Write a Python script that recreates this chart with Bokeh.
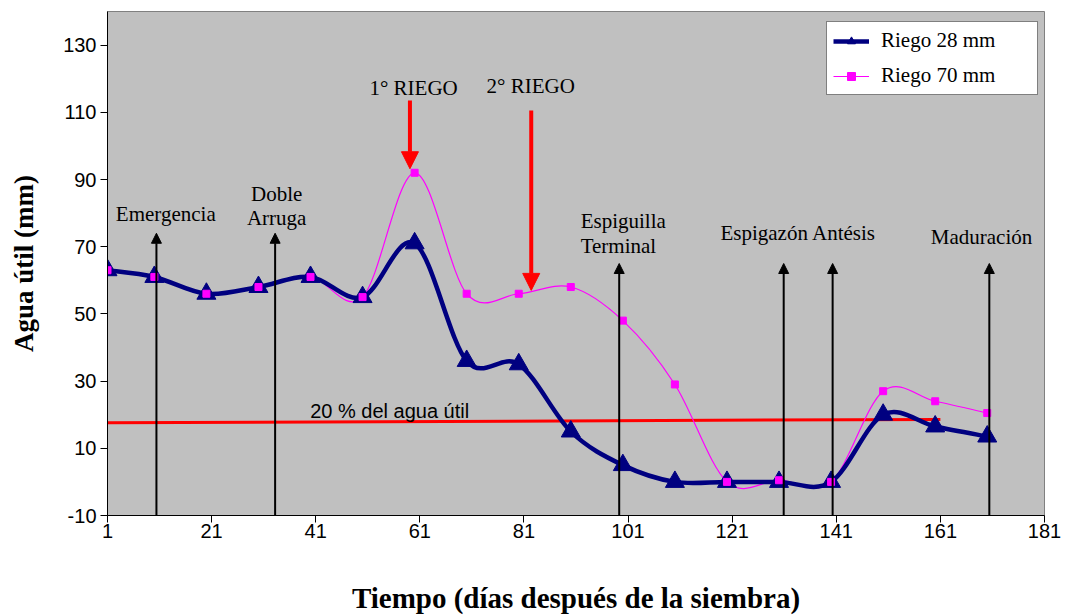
import numpy as np
from bokeh.plotting import figure
from bokeh.models import (Range1d, FixedTicker, Arrow, NormalHead, Legend,
                          LegendItem, ColumnDataSource)
from bokeh.core.properties import value
from bokeh.embed import file_html
from bokeh.resources import INLINE

# Días después de la siembra y agua útil (mm) para cada tratamiento
dias = [1, 10, 20, 30, 40, 50, 60, 70, 80, 90, 100, 110, 120, 130, 140, 150, 160, 170]
riego_28 = [63, 61, 56, 58, 61, 55, 71, 36, 35, 15, 5, 0, 0, 0, 0, 20, 16.5, 13.5]
riego_70 = [63, 61, 56, 58, 61, 55, 92, 56, 56, 58, 48, 29, 0, 0.5, 0, 27, 24, 20.5]

x_ticks = [1, 21, 41, 61, 81, 101, 121, 141, 161, 181]
y_ticks = [-10, 10, 30, 50, 70, 90, 110, 130]

# Estados fenológicos (flechas negras)
etapa_dia = [10.4, 33.2, 99.3, 130.9, 140.3, 170.4]
etapa_tope = [74, 74, 65, 65, 65, 65]

# Riegos aplicados (flechas rojas)
riego_nombre = ["1° RIEGO", "2° RIEGO"]
riego_dia = [59.1, 82.4]
riego_desde = [113.5, 110.5]
riego_hasta = [93.2, 57.0]

# Umbral del 20 % del agua útil
umbral_dia = [1, 161]
umbral_agua = [17.6, 18.6]

SERIF = "Liberation Serif"
SANS = "Liberation Sans"


def smooth_segments(xs, ys):
    """Cubic Bezier segments (Catmull-Rom style) through the given points."""
    x = np.asarray(xs, float)
    y = np.asarray(ys, float)
    xp = np.concatenate([[x[0]], x, [x[-1]]])
    yp = np.concatenate([[y[0]], y, [y[-1]]])
    i = np.arange(len(x) - 1)
    return dict(
        x0=xp[i + 1], y0=yp[i + 1], x1=xp[i + 2], y1=yp[i + 2],
        cx0=xp[i + 1] + (xp[i + 2] - xp[i]) / 6,
        cy0=yp[i + 1] + (yp[i + 2] - yp[i]) / 6,
        cx1=xp[i + 2] - (xp[i + 3] - xp[i + 1]) / 6,
        cy1=yp[i + 2] - (yp[i + 3] - yp[i + 1]) / 6,
    )


p = figure(width=1070, height=616, x_range=Range1d(1, 181), y_range=Range1d(-10, 140),
           output_backend="svg", toolbar_location=None,
           min_border_left=107, min_border_right=26, min_border_top=11,
           min_border_bottom=100)
p.background_fill_color = "#C0C0C0"
p.border_fill_color = "white"
p.outline_line_color = "#808080"
p.outline_line_width = 1
p.grid.visible = False

# Ejes
p.xaxis.ticker = FixedTicker(ticks=x_ticks)
p.yaxis.ticker = FixedTicker(ticks=y_ticks)
p.yaxis.major_label_overrides = {t: str(t) for t in y_ticks}
for ax in (p.xaxis[0], p.yaxis[0]):
    ax.axis_line_color = "black"
    ax.major_tick_line_color = "black"
    ax.minor_tick_line_color = None
    ax.major_tick_in = 0
    ax.major_tick_out = 7
    ax.major_label_text_font = SANS
    ax.major_label_text_font_size = "20px"
    ax.major_label_text_color = "black"
    ax.axis_label_text_font = SERIF
    ax.axis_label_text_font_style = "bold"
    ax.axis_label_text_color = "black"

p.xaxis.axis_label = "Tiempo (días después de la siembra)"
p.xaxis.axis_label_text_font_size = "29px"
p.xaxis.major_label_standoff = 1
p.xaxis.axis_label_standoff = 41
p.yaxis.axis_label = "Agua útil (mm)"
p.yaxis.axis_label_text_font_size = "27px"
p.yaxis.major_label_standoff = 4
p.yaxis.axis_label_standoff = 21

# Línea del 20 % del agua útil
p.line(umbral_dia, umbral_agua, line_color="red", line_width=3)
p.text(x=[55.2], y=[21.0], text=["20 % del agua útil"], text_font=value(SANS),
       text_font_size="20px", text_color="black", text_align="center",
       text_baseline="alphabetic")

# Flechas de los estados fenológicos
etapas_src = ColumnDataSource(dict(x=etapa_dia, y0=[-10] * len(etapa_dia), y1=etapa_tope))
p.add_layout(Arrow(end=NormalHead(size=10, fill_color="black", line_color="black", line_width=1),
                   x_start="x", y_start="y0", x_end="x", y_end="y1",
                   line_color="black", line_width=2, source=etapas_src))

# Series suavizadas
s70 = smooth_segments(dias, riego_70)
p.bezier(line_color="#FF00FF", line_width=1.2, **s70)
s28 = smooth_segments(dias, riego_28)
p.bezier(line_color="#000080", line_width=4.5, line_cap="round", **s28)

m28 = p.scatter(dias, riego_28, marker="triangle", size=19, fill_color="#000080",
                line_color="#000080")
m70 = p.scatter(dias, riego_70, marker="square", size=7, fill_color="#FF00FF",
                line_color="#FF00FF")

# Flechas de riego
riegos_src = ColumnDataSource(dict(x=riego_dia, y0=riego_desde, y1=riego_hasta))
p.add_layout(Arrow(end=NormalHead(size=17, fill_color="red", line_color="red", line_width=1),
                   x_start="x", y_start="y0", x_end="x", y_end="y1",
                   line_color="red", line_width=4, source=riegos_src))

# Rótulos
lab_x = [12.2, 33.5, 33.5, 91.9, 91.9, 133.7, 168.9, 59.8, 82.3]
lab_y = [79.6, 85.8, 78.6, 77.6, 70.2, 74.0, 72.8, 117.3, 117.7]
lab_t = ["Emergencia", "Doble", "Arruga", "Espiguilla", "Terminal",
         "Espigazón Antésis", "Maduración", riego_nombre[0], riego_nombre[1]]
lab_a = ["center", "center", "center", "left", "left", "center", "center", "center", "center"]
p.text(x=lab_x, y=lab_y, text=lab_t, text_align=lab_a, text_font=value(SERIF),
       text_font_size="21px", text_color="black", text_baseline="alphabetic")

# Leyenda
l28 = p.line(dias, riego_28, line_color="#000080", line_width=4.5, visible=False)
l70 = p.line(dias, riego_70, line_color="#FF00FF", line_width=1.2, visible=False)
legend = Legend(items=[LegendItem(label="Riego 28 mm", renderers=[l28, m28]),
                       LegendItem(label="Riego 70 mm", renderers=[l70, m70])],
                location=(719, 420), orientation="vertical",
                label_text_font=SERIF, label_text_font_size="21px",
                label_text_color="black",
                glyph_width=36, glyph_height=20, label_height=20, label_width=150,
                label_standoff=12, spacing=10, padding=6, margin=0,
                border_line_color="black", border_line_width=1,
                background_fill_color="white", background_fill_alpha=1.0)
p.add_layout(legend, "center")

open("out.html", "w").write(file_html(p, INLINE))
